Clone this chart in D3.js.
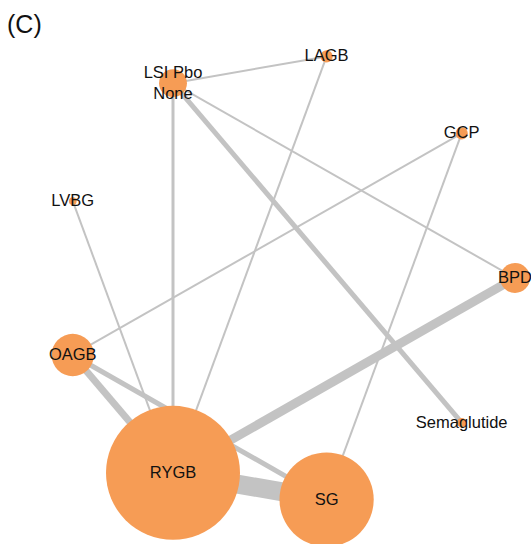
<!DOCTYPE html>
<html>
<head>
<meta charset="utf-8">
<script src="https://cdn.jsdelivr.net/npm/d3@7"></script>
<style>
  html, body { margin: 0; padding: 0; background: #fff; }
  svg { display: block; }
  text { font-family: "Liberation Sans", Arial, sans-serif; }
</style>
</head>
<body>
<svg id="chart" width="531" height="544"></svg>
<script>
// Treatments, in the order they are placed round the circle
const treatments = ["BPD", "GCP", "LAGB", "LSI Pbo None", "LVBG", "OAGB", "RYGB", "SG", "Semaglutide"];
const nodeLabels = [["BPD"], ["GCP"], ["LAGB"], ["LSI Pbo", "None"], ["LVBG"], ["OAGB"], ["RYGB"], ["SG"], ["Semaglutide"]];
// Participants randomised to each treatment (node area)
const participants = [450, 75, 75, 390, 30, 900, 9000, 4450, 45];

// Direct comparisons and number of trials (edge width)
const edgeFrom = ["LSI Pbo None", "LSI Pbo None", "LSI Pbo None", "LSI Pbo None", "LAGB", "GCP", "GCP", "LVBG", "OAGB", "OAGB", "RYGB", "RYGB"];
const edgeTo   = ["LAGB", "RYGB", "Semaglutide", "BPD", "RYGB", "OAGB", "SG", "RYGB", "RYGB", "SG", "BPD", "SG"];
const trials   = [1, 2, 4, 1, 1, 1, 1, 1, 6, 4, 8, 18];

const svg = d3.select("#chart");

// circular layout: unit circle mapped onto the drawing area
const x = d3.scaleLinear().domain([-1, 1]).range([287 - 228, 287 + 228]);
const y = d3.scaleLinear().domain([-1, 1]).range([278 - 225, 278 + 225]);
const angle = d3.scaleLinear().domain([0, treatments.length]).range([0, -2 * Math.PI]);

const r = d3.scaleSqrt().domain([0, d3.max(participants)]).range([0, 67]);
const w = d3.scaleLinear().domain([0, d3.max(trials)]).range([1, 19]);

const nodes = treatments.map((t, i) => ({
  id: t,
  lines: nodeLabels[i],
  size: participants[i],
  x: x(Math.cos(angle(i))),
  y: y(Math.sin(angle(i)))
}));
const byId = new Map(nodes.map(n => [n.id, n]));
const links = edgeFrom.map((s, i) => ({ source: byId.get(s), target: byId.get(edgeTo[i]), n: trials[i] }));

svg.append("g")
  .selectAll("line")
  .data(links)
  .join("line")
  .attr("x1", d => d.source.x)
  .attr("y1", d => d.source.y)
  .attr("x2", d => d.target.x)
  .attr("y2", d => d.target.y)
  .attr("stroke", "#c3c3c3")
  .attr("stroke-width", d => w(d.n));

svg.append("g")
  .selectAll("circle")
  .data(nodes)
  .join("circle")
  .attr("cx", d => d.x)
  .attr("cy", d => d.y)
  .attr("r", d => r(d.size))
  .attr("fill", "#f69c55");

const labels = svg.append("g")
  .selectAll("text")
  .data(nodes)
  .join("text")
  .attr("x", d => d.x)
  .attr("y", d => d.y)
  .attr("text-anchor", "middle")
  .attr("font-size", 16.5)
  .attr("fill", "#111");

labels.selectAll("tspan")
  .data(d => d.lines.map((l, i) => ({ l, i, k: d.lines.length, x: d.x })))
  .join("tspan")
  .attr("x", d => d.x)
  .attr("dy", d => d.i === 0 ? (0.3 - (d.k - 1) * 0.64) + "em" : "1.28em")
  .text(d => d.l);

svg.append("text")
  .attr("x", 7)
  .attr("y", 33)
  .attr("font-size", 25)
  .attr("fill", "#111")
  .text("(C)");
</script>
</body>
</html>
